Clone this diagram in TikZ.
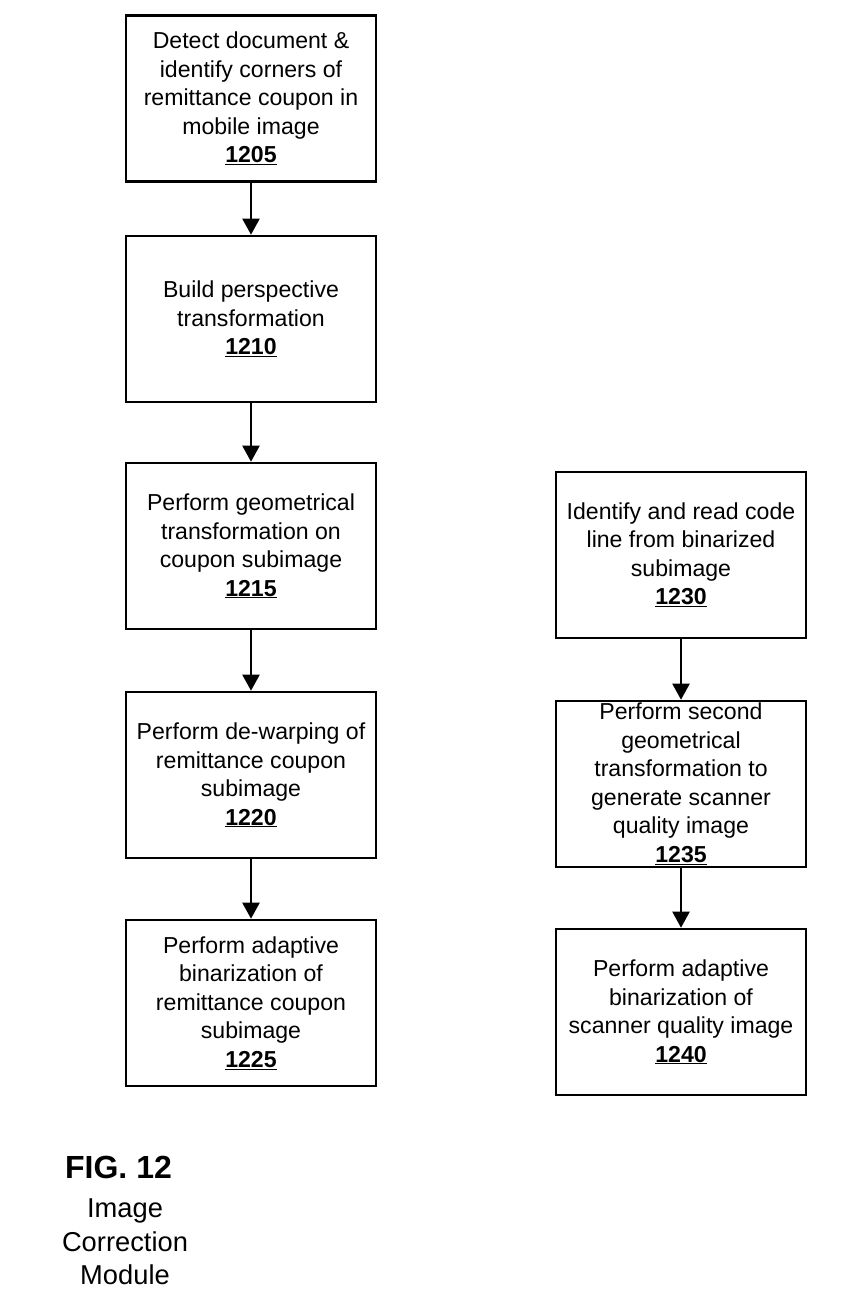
\documentclass[tikz,border=0pt]{standalone}
\usepackage{fontspec}
\setmainfont{Liberation Sans}
\usetikzlibrary{arrows.meta}
\begin{document}
\begin{tikzpicture}[x=1pt,y=-1pt,
  boxframe/.style={draw=black, line width=2.6pt, minimum width=250pt, minimum height=166pt, inner sep=0pt},
  boxtext/.style={align=center, font=\fontsize{23.1}{28.5}\selectfont, inner sep=0pt},
  flow/.style={-{Triangle[width=17pt,length=16pt]}, line width=2.2pt},
  figlabel/.style={font=\fontsize{32}{38}\selectfont\bfseries, inner sep=0pt, anchor=base},
  figcaption/.style={font=\fontsize{27.3}{33.5}\selectfont, inner sep=0pt, anchor=base}]
\useasboundingbox (0,0) rectangle (861,1313);
% left column
\node[boxframe] (b1205) at (251,98.5) {};
\node[boxtext] (t1205) at (b1205) {Detect document \&\\identify corners of\\remittance coupon in\\mobile image\\\underline{\textbf{1205}}};
\node[boxframe] (b1210) at (251,319) {};
\node[boxtext] (t1210) at (b1210) {Build perspective\\transformation\\\underline{\textbf{1210}}};
\node[boxframe] (b1215) at (251,546) {};
\node[boxtext] (t1215) at (b1215) {Perform geometrical\\transformation on\\coupon subimage\\\underline{\textbf{1215}}};
\node[boxframe] (b1220) at (251,775) {};
\node[boxtext] (t1220) at (b1220) {Perform de-warping of\\remittance coupon\\subimage\\\underline{\textbf{1220}}};
\node[boxframe] (b1225) at (251,1003) {};
\node[boxtext] (t1225) at (b1225) {Perform adaptive\\binarization of\\remittance coupon\\subimage\\\underline{\textbf{1225}}};
% right column
\node[boxframe] (b1230) at (681,555) {};
\node[boxtext] (t1230) at (b1230) {Identify and read code\\line from binarized\\subimage\\\underline{\textbf{1230}}};
\node[boxframe] (b1235) at (681,784) {};
\node[boxtext] (t1235) at (b1235) {Perform second\\geometrical\\transformation to\\generate scanner\\quality image\\\underline{\textbf{1235}}};
\node[boxframe] (b1240) at (681,1012) {};
\node[boxtext] (t1240) at (b1240) {Perform adaptive\\binarization of\\scanner quality image\\\underline{\textbf{1240}}};
% arrows
\draw[flow] (b1205.south) -- (b1210.north);
\draw[flow] (b1210.south) -- (b1215.north);
\draw[flow] (b1215.south) -- (b1220.north);
\draw[flow] (b1220.south) -- (b1225.north);
\draw[flow] (b1230.south) -- (b1235.north);
\draw[flow] (b1235.south) -- (b1240.north);
% caption
\node[figlabel] (fig) at (118.5,1178) {FIG. 12};
\node[figcaption] (cap1) at (125,1217) {Image};
\node[figcaption] (cap2) at (125,1251) {Correction};
\node[figcaption] (cap3) at (125,1284) {Module};
\end{tikzpicture}
\end{document}
